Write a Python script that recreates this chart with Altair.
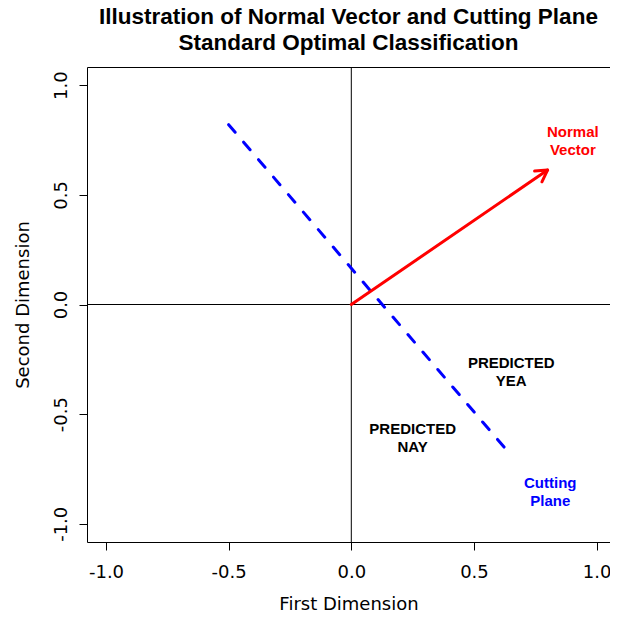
import altair as alt
import pandas as pd

# --- data ---
tick_values = [-1.0, -0.5, 0.0, 0.5, 1.0]

normal_x = [0.0, 0.8]
normal_y = [0.0, 0.613]

plane_x = [-0.5, 0.657]
plane_y = [0.82, -0.695]

label_text = ["Normal\nVector", "Cutting\nPlane", "PREDICTED\nYEA", "PREDICTED\nNAY"]
label_x = [0.903, 0.811, 0.652, 0.250]
label_y = [0.764, -0.837, -0.288, -0.590]   # baseline of first line
label_color = ["#FF0000", "#0000FF", "#000000", "#000000"]

X_DOM = [-1.0775, 1.0546]
Y_DOM = [-1.083, 1.083]

xs = alt.Scale(domain=X_DOM, nice=False, zero=False)
ys = alt.Scale(domain=Y_DOM, nice=False, zero=False)

AXIS_FONT = "DejaVu Sans"
LABEL_EXPR = "replace(format(datum.value, '.1f'), '\u2212', '-')"

x_axis = alt.Axis(
    values=tick_values, labelExpr=LABEL_EXPR, grid=False, domain=False,
    tickColor="black", tickSize=8, tickWidth=1,
    labelFont=AXIS_FONT, labelFontSize=18, labelColor="black", labelPadding=13,
    labelBaseline="top",
    title="First Dimension", titleFont=AXIS_FONT, titleFontSize=18,
    titleFontWeight="normal", titleColor="black", titlePadding=14,
)
y_axis = alt.Axis(
    values=tick_values, labelExpr=LABEL_EXPR, grid=False, domain=False,
    tickColor="black", tickSize=8, tickWidth=1,
    labelFont=AXIS_FONT, labelFontSize=18, labelColor="black", labelPadding=13,
    labelAngle=270, labelAlign="center", labelBaseline="alphabetic",
    title="Second Dimension", titleFont=AXIS_FONT, titleFontSize=18,
    titleFontWeight="normal", titleColor="black", titlePadding=20,
)

# zero reference lines
zero_v = alt.Chart(pd.DataFrame({"x": [0.0]})).mark_rule(color="black", strokeWidth=1).encode(
    x=alt.X("x:Q", scale=xs, axis=x_axis)
)
zero_h = alt.Chart(pd.DataFrame({"y": [0.0]})).mark_rule(color="black", strokeWidth=1).encode(
    y=alt.Y("y:Q", scale=ys, axis=y_axis)
)

# cutting plane (dashed blue)
plane_df = pd.DataFrame({"x": [plane_x[0]], "y": [plane_y[0]], "x2": [plane_x[1]], "y2": [plane_y[1]]})
plane = alt.Chart(plane_df).mark_rule(
    color="#0000FF", strokeWidth=3, strokeDash=[10, 13], strokeCap="round"
).encode(
    x=alt.X("x:Q", scale=xs), y=alt.Y("y:Q", scale=ys), x2="x2:Q", y2="y2:Q"
)

# normal vector (red arrow)
vec_df = pd.DataFrame({"x": [normal_x[0]], "y": [normal_y[0]], "x2": [normal_x[1]], "y2": [normal_y[1]]})
vec = alt.Chart(vec_df).mark_rule(color="#FF0000", strokeWidth=3, strokeCap="round").encode(
    x=alt.X("x:Q", scale=xs), y=alt.Y("y:Q", scale=ys), x2="x2:Q", y2="y2:Q"
)
head_df = pd.DataFrame({"x": [normal_x[1]], "y": [normal_y[1]]})
head = alt.Chart(head_df).mark_point(
    shape="M -0.866 -0.5 L 0 0 L -0.866 0.5",
    filled=False, stroke="#FF0000", strokeWidth=3, size=676,
    strokeCap="round", strokeJoin="round", angle=325.6, opacity=1,
).encode(
    x=alt.X("x:Q", scale=xs), y=alt.Y("y:Q", scale=ys)
)

# labels
lab_df = pd.DataFrame({"x": label_x, "y": label_y, "t": label_text, "c": label_color})
labels = alt.Chart(lab_df).mark_text(
    font="Liberation Sans", fontWeight="bold", fontSize=15, lineBreak="\n",
    lineHeight=18.3, align="center", baseline="alphabetic",
).encode(
    x=alt.X("x:Q", scale=xs), y=alt.Y("y:Q", scale=ys), text="t:N",
    color=alt.Color("c:N", scale=None),
)

chart = alt.layer(zero_v, zero_h, plane, vec, head, labels).properties(
    width=523, height=475,
    title=alt.TitleParams(
        text=["Illustration of Normal Vector and Cutting Plane", "Standard Optimal Classification"],
        font="Liberation Sans", fontSize=22.5, fontWeight="bold", color="black",
        lineHeight=26.5, anchor="middle", offset=12,
    ),
    autosize=alt.AutoSizeParams(type="none"),
    padding={"left": 79, "top": 59, "right": 0, "bottom": 70},
    background="white",
).configure_view(stroke="black", strokeWidth=1)

chart.save("out.html", embed_options={"renderer": "svg", "actions": False})
